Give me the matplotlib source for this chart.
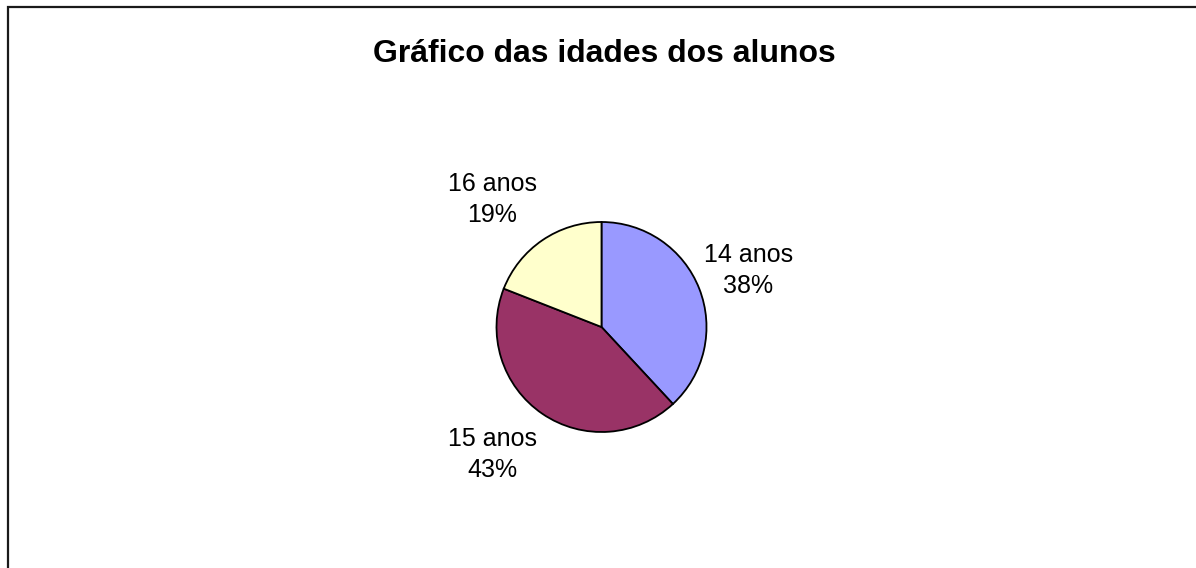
import numpy as np
import matplotlib
matplotlib.use("Agg")
import matplotlib.pyplot as plt
from matplotlib.patches import Rectangle

plt.rcParams['font.family'] = ['Liberation Sans', 'DejaVu Sans']

# Dados: número de alunos por idade
idades = ["14 anos", "15 anos", "16 anos"]
alunos = [8, 9, 4]
cores = ["#9999FF", "#993366", "#FFFFCC"]

total = sum(alunos)
rotulos = [f"{i}\n{round(100 * a / total)}%" for i, a in zip(idades, alunos)]

fig = plt.figure(figsize=(11.96, 5.68), dpi=100)

# moldura do gráfico
fig.patches.append(Rectangle((8 / 1196, -0.2), 1.2, 1.2 - 6.5 / 568,
                             transform=fig.transFigure, fill=False,
                             edgecolor="#1a1a1a", linewidth=1.6))

fig.text(604 / 1196, 1 - 62 / 568, "Gráfico das idades dos alunos",
         ha="center", va="baseline", fontsize=23, fontweight="bold")

ax = fig.add_axes([496.5 / 1196, 136 / 568, 210 / 1196, 210 / 568])
wedges, texts = ax.pie(alunos, labels=rotulos, colors=cores, startangle=90,
                       counterclock=False, labeldistance=1.47,
                       wedgeprops=dict(edgecolor="black", linewidth=1.3),
                       textprops=dict(fontsize=18, linespacing=1.4))
# rótulos centrados, afastados um pouco mais no lado esquerdo (como no Excel)
for w, t in zip(wedges, texts):
    ang = np.deg2rad((w.theta1 + w.theta2) / 2)
    x, y = 1.47 * np.cos(ang), 1.47 * np.sin(ang)
    x += 0.03 if x > 0 else -0.21
    t.set_position((x, y))
    t.set_horizontalalignment("center")
    t.set_verticalalignment("center")
ax.set_xlim(-1, 1)
ax.set_ylim(-1, 1)
ax.axis("off")

fig.savefig("out.png", dpi=100)
